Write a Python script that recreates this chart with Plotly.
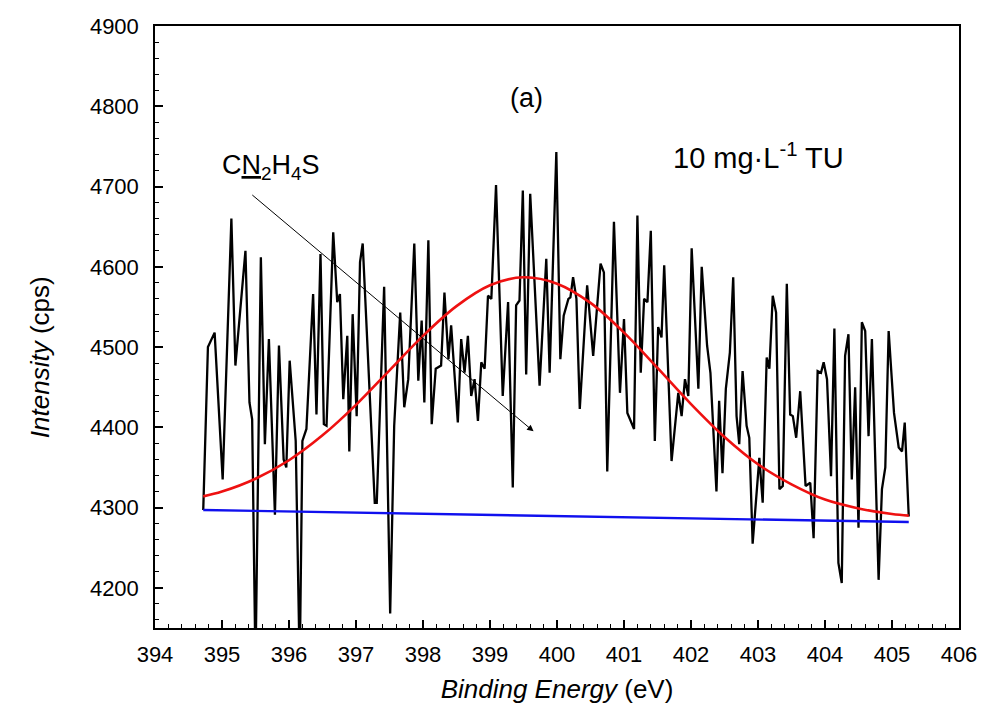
import plotly.graph_objects as go

# ---- data ----
energy = [394.72, 394.79, 394.89, 395.01, 395.14, 395.20, 395.35, 395.41, 395.45, 395.50,
          395.58, 395.64, 395.70, 395.79, 395.85, 395.92, 395.96, 396.01, 396.10, 396.16,
          396.20, 396.26, 396.36, 396.41, 396.47, 396.52, 396.56, 396.66, 396.72, 396.76,
          396.81, 396.87, 396.90, 396.95, 397.01, 397.06, 397.10, 397.28, 397.31, 397.42,
          397.51, 397.57, 397.66, 397.72, 397.78, 397.87, 397.93, 397.98, 398.02, 398.08,
          398.13, 398.19, 398.27, 398.32, 398.38, 398.42, 398.52, 398.57, 398.62, 398.67,
          398.72, 398.77, 398.82, 398.87, 398.92, 398.97, 399.02, 399.09, 399.19, 399.27,
          399.34, 399.39, 399.44, 399.49, 399.54, 399.60, 399.74, 399.84, 399.89, 399.99,
          400.05, 400.10, 400.17, 400.20, 400.24, 400.29, 400.34, 400.45, 400.54, 400.65,
          400.70, 400.75, 400.85, 400.94, 401.00, 401.05, 401.15, 401.20, 401.25, 401.30,
          401.35, 401.40, 401.46, 401.51, 401.56, 401.60, 401.71, 401.81, 401.86, 401.91,
          401.96, 402.01, 402.11, 402.16, 402.24, 402.29, 402.38, 402.42, 402.47, 402.52,
          402.58, 402.63, 402.68, 402.72, 402.77, 402.83, 402.87, 402.92, 403.02, 403.07,
          403.13, 403.17, 403.22, 403.27, 403.32, 403.37, 403.43, 403.48, 403.52, 403.57,
          403.63, 403.71, 403.78, 403.83, 403.89, 403.94, 403.98, 404.03, 404.09, 404.14,
          404.20, 404.25, 404.30, 404.35, 404.40, 404.45, 404.50, 404.55, 404.60, 404.65,
          404.70, 404.80, 404.85, 404.90, 404.95, 405.03, 405.10, 405.15, 405.19, 405.25]
intensity = [4297, 4500, 4518, 4335, 4660, 4477, 4620, 4431, 4410, 4100,
             4612, 4379, 4510, 4291, 4502, 4360, 4350, 4483, 4383, 4100,
             4383, 4398, 4566, 4416, 4616, 4404, 4402, 4643, 4556, 4566,
             4435, 4514, 4370, 4541, 4414, 4606, 4629, 4306, 4306, 4575,
             4168, 4402, 4543, 4425, 4460, 4629, 4458, 4533, 4431, 4633,
             4404, 4473, 4477, 4568, 4485, 4527, 4406, 4510, 4468, 4514,
             4439, 4460, 4408, 4481, 4473, 4564, 4560, 4702, 4439, 4556,
             4325, 4552, 4558, 4695, 4466, 4691, 4452, 4610, 4468, 4743,
             4485, 4539, 4560, 4562, 4587, 4560, 4423, 4577, 4489, 4604,
             4593, 4345, 4656, 4443, 4535, 4418, 4398, 4664, 4468, 4560,
             4556, 4645, 4383, 4525, 4512, 4602, 4358, 4443, 4414, 4460,
             4439, 4623, 4448, 4600, 4502, 4468, 4320, 4433, 4343, 4448,
             4493, 4587, 4414, 4379, 4470, 4402, 4387, 4255, 4362, 4306,
             4487, 4473, 4564, 4543, 4323, 4327, 4579, 4416, 4414, 4387,
             4445, 4327, 4331, 4262, 4470, 4468, 4481, 4460, 4339, 4523,
             4231, 4206, 4489, 4516, 4335, 4450, 4275, 4531, 4520, 4389,
             4510, 4210, 4323, 4350, 4520, 4418, 4375, 4370, 4406, 4289]

fit_energy = [394.72, 395.0, 395.5, 396.0, 396.5, 397.0, 397.5, 398.0, 398.5, 399.0,
              399.5, 400.0, 400.5, 401.0, 401.5, 402.0, 402.5, 403.0, 403.5, 404.0,
              404.5, 405.0, 405.25]
fit_intensity = [4314, 4320, 4336, 4359, 4390, 4428, 4471, 4514, 4551, 4577,
                 4587, 4579, 4555, 4518, 4474, 4429, 4388, 4354, 4329, 4310,
                 4299, 4292, 4290]

base_energy = [394.72, 405.25]
base_intensity = [4297, 4282]

x_ticks = [394, 395, 396, 397, 398, 399, 400, 401, 402, 403, 404, 405, 406]
y_ticks = [4200, 4300, 4400, 4500, 4600, 4700, 4800, 4900]

FONT = "Arial, Liberation Sans, sans-serif"

fig = go.Figure()
fig.add_trace(go.Scatter(x=energy, y=intensity, mode="lines",
                         line=dict(color="black", width=2.3), showlegend=False))
fig.add_trace(go.Scatter(x=fit_energy, y=fit_intensity, mode="lines",
                         line=dict(color="#ee1111", width=2.6, shape="spline"),
                         showlegend=False))
fig.add_trace(go.Scatter(x=base_energy, y=base_intensity, mode="lines",
                         line=dict(color="#1010ee", width=2.4), showlegend=False))

fig.update_layout(
    width=990, height=713,
    margin=dict(l=155, r=31, t=26, b=85),
    paper_bgcolor="white", plot_bgcolor="white",
    font=dict(family=FONT, size=22, color="black"),
    xaxis=dict(
        range=[394, 406], tickvals=x_ticks, ticktext=[str(v) for v in x_ticks],
        showgrid=False, zeroline=False, showline=True, linecolor="black",
        linewidth=1.5, mirror=True, ticks="inside", ticklen=8, tickwidth=1.5,
        tickcolor="black", ticklabelstandoff=6,
        minor=dict(dtick=0.2, ticks="inside", ticklen=4, tickwidth=1.2,
                   tickcolor="black", showgrid=False),
        title=dict(text="<i>Binding Energy</i> (eV)", font=dict(size=26),
                   standoff=14),
    ),
    yaxis=dict(
        range=[4150, 4900], tickvals=y_ticks, ticktext=[str(v) for v in y_ticks],
        showgrid=False, zeroline=False, showline=True, linecolor="black",
        linewidth=1.5, mirror=True, ticks="inside", ticklen=8, tickwidth=1.5,
        tickcolor="black", ticklabelstandoff=10,
        minor=dict(dtick=20, ticks="inside", ticklen=4, tickwidth=1.2,
                   tickcolor="black", showgrid=False),
    ),
)

# y-axis title (placed slightly below the axis centre, as in the reference)
fig.add_annotation(x=-0.143, y=0.45, xref="paper", yref="paper", showarrow=False,
                   text="<i>Intensity</i> (cps)", textangle=-90,
                   font=dict(size=26), xanchor="center", yanchor="middle")

fig.add_annotation(x=399.65, y=4395, ax=395.43, ay=4691, xref="x", yref="y",
                   axref="x", ayref="y", text="", showarrow=True,
                   arrowhead=2, arrowsize=1.3, arrowwidth=1, arrowcolor="black")
fig.add_annotation(x=395.73, y=4724, xref="x", yref="y", showarrow=False,
                   text='C<span style="text-decoration:underline">N</span><sub>2</sub>H<sub>4</sub>S',
                   font=dict(size=27))
fig.add_annotation(x=399.55, y=4810, xref="x", yref="y", showarrow=False,
                   text="(a)", font=dict(size=27))
fig.add_annotation(x=403.0, y=4738, xref="x", yref="y", showarrow=False,
                   text="10 mg·L<sup>-1</sup> TU", font=dict(size=29))

fig.write_html("out.html")
